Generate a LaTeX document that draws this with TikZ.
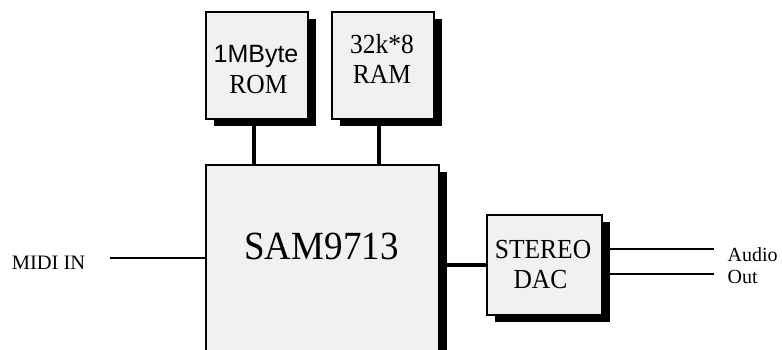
\documentclass[tikz,border=0pt]{standalone}
\usepackage{fontspec}
\setmainfont{Liberation Serif}
\newfontfamily\arialfont{Liberation Sans}
\usetikzlibrary{shadows}
\definecolor{chipgray}{HTML}{F1F1F1}
\newcommand{\tallx}[1]{\scalebox{1}[1.08]{#1}}
\tikzset{
  chip/.style={draw, line width=1.1pt, fill=chipgray, inner sep=0pt,
    drop shadow={shadow xshift=8pt, shadow yshift=-7pt, opacity=1, fill=black}},
  txt/.style={anchor=base, inner sep=0pt, font=\fontsize{#1}{#1}\selectfont},
  bus/.style={line width=4pt},
  wire/.style={line width=1.8pt}
}
\begin{document}
\begin{tikzpicture}[x=1pt,y=-1pt]
\useasboundingbox (0,0) rectangle (782,349);
\clip (0,0) rectangle (782,349);
% memory chips
\node[chip, minimum width=102pt, minimum height=107pt] (rom) at (257,65.5) {};
\node[chip, minimum width=102pt, minimum height=107pt] (ram) at (383,65.5) {};
% synthesizer and converter
\node[chip, minimum width=233pt, minimum height=200pt] (sam) at (322.5,265) {};
\node[chip, minimum width=115pt, minimum height=100pt] (dac) at (544.5,265) {};
\draw {(256,62) node[txt=25] (romtop) {\arialfont 1MByte}
  (258.5,93) node[txt=25.5] (rombot) {\tallx{ROM}}
  (382,53) node[txt=25.5] (ramtop) {\tallx{32k*8}}
  (382,83) node[txt=25.5] (rambot) {\tallx{RAM}}
  (321.5,259.5) node[txt=37] (samlabel) {\tallx{SAM9713}}
  (543,258.5) node[txt=25.5] (dactop) {\tallx{STEREO}}
  (540.5,288.5) node[txt=25.5] (dacbot) {\tallx{DAC}}};
\draw[bus] ([xshift=-3pt]rom.south) -- ([xshift=-3pt]rom.south |- sam.north);
\draw[bus] ([xshift=-4pt]ram.south) -- ([xshift=-4pt]ram.south |- sam.north);
\draw[bus] (dac.west) -- (dac.west -| sam.east);
% in and out
\node[txt=20.5] (midi) at (48.5,269.5) {MIDI IN};
\coordinate (midiend) at (110,258);
\draw[wire] (midiend) -- (midiend -| sam.west);
\coordinate (audioend) at (714,249);
\coordinate (outend) at (714,274);
\draw[wire] (audioend -| dac.east) -- (audioend);
\draw[wire] (outend -| dac.east) -- (outend);
\node[txt=20, anchor=base west] (audio) at (727.5,261.7) {Audio};
\node[txt=20, anchor=base west] (out) at (727.5,283.3) {Out};
\end{tikzpicture}
\end{document}
